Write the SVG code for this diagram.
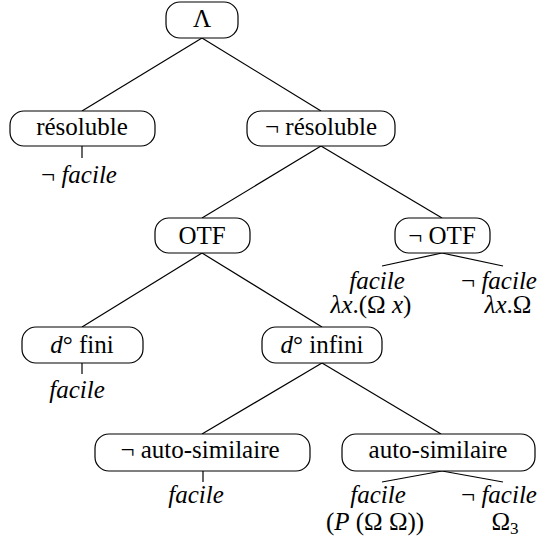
<svg xmlns="http://www.w3.org/2000/svg" width="543" height="542" viewBox="0 0 543 542">
<style>
.n{fill:#fff;stroke:#000;stroke-width:1.2}
text{font-family:"Liberation Serif","DejaVu Serif",serif;font-size:25px;text-anchor:middle;fill:#000}
.i{font-style:italic}
.c line{stroke:#000;stroke-width:1.2}
</style>
<rect width="543" height="542" fill="#fff"/>
<g class="c" id="connectors">
<line x1="202" y1="38" x2="82" y2="111"/>
<line x1="202" y1="38" x2="321" y2="111"/>
<line x1="82" y1="146" x2="82" y2="158"/>
<line x1="321" y1="146" x2="202" y2="218"/>
<line x1="321" y1="146" x2="442" y2="218"/>
<line x1="442" y1="253" x2="382" y2="266"/>
<line x1="442" y1="253" x2="503" y2="266"/>
<line x1="202" y1="253" x2="82" y2="327"/>
<line x1="202" y1="253" x2="322" y2="327"/>
<line x1="82" y1="363" x2="82" y2="374"/>
<line x1="322" y1="363" x2="202" y2="434"/>
<line x1="322" y1="363" x2="441" y2="434"/>
<line x1="203" y1="471" x2="203" y2="482"/>
<line x1="442" y1="471" x2="382" y2="482"/>
<line x1="442" y1="471" x2="503" y2="482"/>
</g>
<g id="n-lambda"><rect class="n" x="166" y="2" width="72" height="36" rx="14"/><text x="202" y="27">Λ</text></g>
<g id="n-resoluble"><rect class="n" x="10" y="111" width="145" height="35" rx="14"/><text x="82" y="135">résoluble</text></g>
<g id="n-nresoluble"><rect class="n" x="247" y="111" width="148" height="35" rx="14"/><text x="321" y="135">¬ résoluble</text></g>
<g id="l-resoluble"><text x="79" y="183">¬ <tspan class="i">facile</tspan></text></g>
<g id="n-otf"><rect class="n" x="155" y="218" width="95" height="35" rx="14"/><text x="202" y="244">OTF</text></g>
<g id="n-notf"><rect class="n" x="395" y="218" width="95" height="35" rx="14"/><text x="442" y="244">¬ OTF</text></g>
<g id="l-notf1"><text class="i" x="377" y="289">facile</text><text x="371" y="313"><tspan class="i">λx</tspan>.(Ω <tspan class="i">x</tspan>)</text></g>
<g id="l-notf2"><text x="499" y="289">¬ <tspan class="i">facile</tspan></text><text x="508" y="313"><tspan class="i">λx</tspan>.Ω</text></g>
<g id="n-dfini"><rect class="n" x="22" y="327" width="121" height="36" rx="14"/><text x="82" y="353"><tspan class="i">d</tspan>° fini</text></g>
<g id="l-dfini"><text class="i" x="77" y="398">facile</text></g>
<g id="n-dinfini"><rect class="n" x="262" y="327" width="120" height="36" rx="14"/><text x="322" y="353"><tspan class="i">d</tspan>° infini</text></g>
<g id="n-nauto"><rect class="n" x="95" y="434" width="215" height="37" rx="14"/><text x="200" y="458">¬ auto-similaire</text></g>
<g id="l-nauto"><text class="i" x="196" y="503">facile</text></g>
<g id="n-auto"><rect class="n" x="342" y="434" width="193" height="37" rx="14"/><text x="438" y="458">auto-similaire</text></g>
<g id="l-auto1"><text class="i" x="378" y="503">facile</text><text x="375" y="530">(<tspan class="i">P</tspan> (Ω Ω))</text></g>
<g id="l-auto2"><text x="499" y="503">¬ <tspan class="i">facile</tspan></text><text x="505" y="530">Ω<tspan font-size="17" dy="4">3</tspan></text></g>
</svg>
